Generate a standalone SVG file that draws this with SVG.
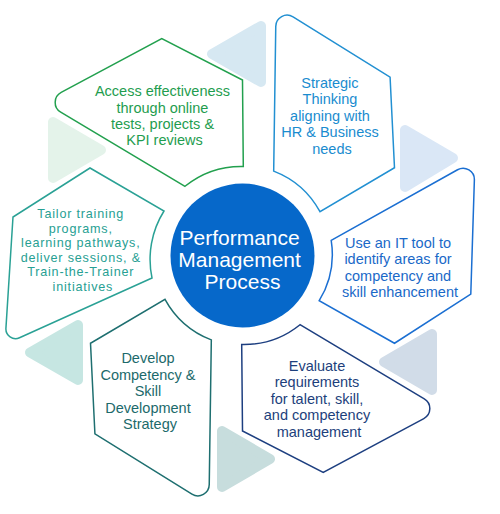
<svg xmlns="http://www.w3.org/2000/svg" xmlns:xlink="http://www.w3.org/1999/xlink" width="500" height="514" viewBox="0 0 500 514">
<style>
  .petal { fill: #ffffff; stroke-width: 1.5; stroke-linejoin: miter; }
  .tri { stroke-width: 10; stroke-linejoin: round; }
  .lbl { font-family: "Liberation Sans", Arial, sans-serif; font-size: 14.5px; text-anchor: middle; }
  .lbl-sm { font-family: "Liberation Sans", Arial, sans-serif; font-size: 12.6px; letter-spacing: 0.8px; text-anchor: middle; }
  .ctr { font-family: "Liberation Sans", Arial, sans-serif; font-size: 21px; text-anchor: middle; fill: #ffffff; }
</style>
<defs>
  <path id="petal" d="M 331.2 240.3 L 457.54 169.75 A 11.3 11.3 0 0 1 474.37 180 L 470.8 294.1 L 394.5 343.25 L 319.2 300.7 A 89.5 89.5 0 0 0 331.2 240.3 Z"/>
</defs>
<rect width="500" height="514" fill="#ffffff"/>

<g id="connectors">
  <polygon class="tri" points="212,54 261,26 261,82" fill="#d6e8f2" stroke="#d6e8f2"/>
  <polygon class="tri" points="405,130 405,187 453,158" fill="#dae7f6" stroke="#dae7f6"/>
  <polygon class="tri" points="384,362 432,334 432,390" fill="#d1dce8" stroke="#d1dce8"/>
  <polygon class="tri" points="222,431 222,487 270,459" fill="#c7dddd" stroke="#c7dddd"/>
  <polygon class="tri" points="30,352.5 78,325 78,380" fill="#c6e6e2" stroke="#c6e6e2"/>
  <polygon class="tri" points="53,122 53,178 101,150" fill="#e4f3ea" stroke="#e4f3ea"/>
</g>

<g id="node-assess">
  <use xlink:href="#petal" href="#petal" class="petal" stroke="#22a04e" transform="rotate(-120 242.5 255.5)"/>
  <text class="lbl" fill="#1f9d4f">
    <tspan x="164.5" y="96">Access effectiveness</tspan>
    <tspan x="164.5" y="112.5">through online</tspan>
    <tspan x="164.5" y="129">tests, projects &amp;</tspan>
    <tspan x="164.5" y="145">KPI reviews</tspan>
  </text>
</g>

<g id="node-strategic">
  <use xlink:href="#petal" href="#petal" class="petal" stroke="#2290d2" transform="rotate(-60 242.5 255.5)"/>
  <text class="lbl" fill="#1a8ccf">
    <tspan x="332" y="87.5">Strategic</tspan>
    <tspan x="332" y="104">Thinking</tspan>
    <tspan x="332" y="120.5">aligning with</tspan>
    <tspan x="332" y="137">HR &amp; Business</tspan>
    <tspan x="332" y="153.5">needs</tspan>
  </text>
</g>

<g id="node-ittool">
  <use xlink:href="#petal" href="#petal" class="petal" stroke="#1b6fd2"/>
  <text class="lbl" fill="#1a69c8">
    <tspan x="400" y="247.5">Use an IT tool to</tspan>
    <tspan x="400" y="264">identify areas for</tspan>
    <tspan x="400" y="280.8">competency and</tspan>
    <tspan x="400" y="297.3">skill enhancement</tspan>
  </text>
</g>

<g id="node-evaluate">
  <use xlink:href="#petal" href="#petal" class="petal" stroke="#1d3f80" transform="rotate(60 242.5 255.5)"/>
  <text class="lbl" fill="#1d3f7c">
    <tspan x="319" y="371">Evaluate</tspan>
    <tspan x="319" y="387.3">requirements</tspan>
    <tspan x="319" y="403.5">for talent, skill,</tspan>
    <tspan x="319" y="420">and competency</tspan>
    <tspan x="319" y="436.5">management</tspan>
  </text>
</g>

<g id="node-develop">
  <use xlink:href="#petal" href="#petal" class="petal" stroke="#1e6f70" transform="rotate(120 242.5 255.5)"/>
  <text class="lbl" fill="#1c6a6b">
    <tspan x="150" y="363">Develop</tspan>
    <tspan x="150" y="379.7">Competency &amp;</tspan>
    <tspan x="150" y="396.3">Skill</tspan>
    <tspan x="150" y="413">Development</tspan>
    <tspan x="150" y="429.3">Strategy</tspan>
  </text>
</g>

<g id="node-tailor">
  <path class="petal" stroke="#2aa195" d="M 152 278 L 19.5 337.7 A 9.64 9.64 0 0 1 5.92 328.33 L 13 217 L 90 168 L 164 211 A 91 91 0 0 0 152 278 Z"/>
  <text class="lbl-sm" fill="#27a093">
    <tspan x="82.9" y="218.3">Tailor training</tspan>
    <tspan x="82.9" y="232.8">programs,</tspan>
    <tspan x="82.9" y="247.3">learning pathways,</tspan>
    <tspan x="82.9" y="261.8">deliver sessions, &amp;</tspan>
    <tspan x="82.9" y="276.3">Train-the-Trainer</tspan>
    <tspan x="82.9" y="290.8">initiatives</tspan>
  </text>
</g>

<g id="node-center">
  <circle cx="242.5" cy="255.5" r="72" fill="#0668ca"/>
  <text class="ctr">
    <tspan x="242.5" y="245">Performance</tspan>
    <tspan x="242.5" y="267">Management</tspan>
    <tspan x="242.5" y="289">Process</tspan>
  </text>
</g>
</svg>
